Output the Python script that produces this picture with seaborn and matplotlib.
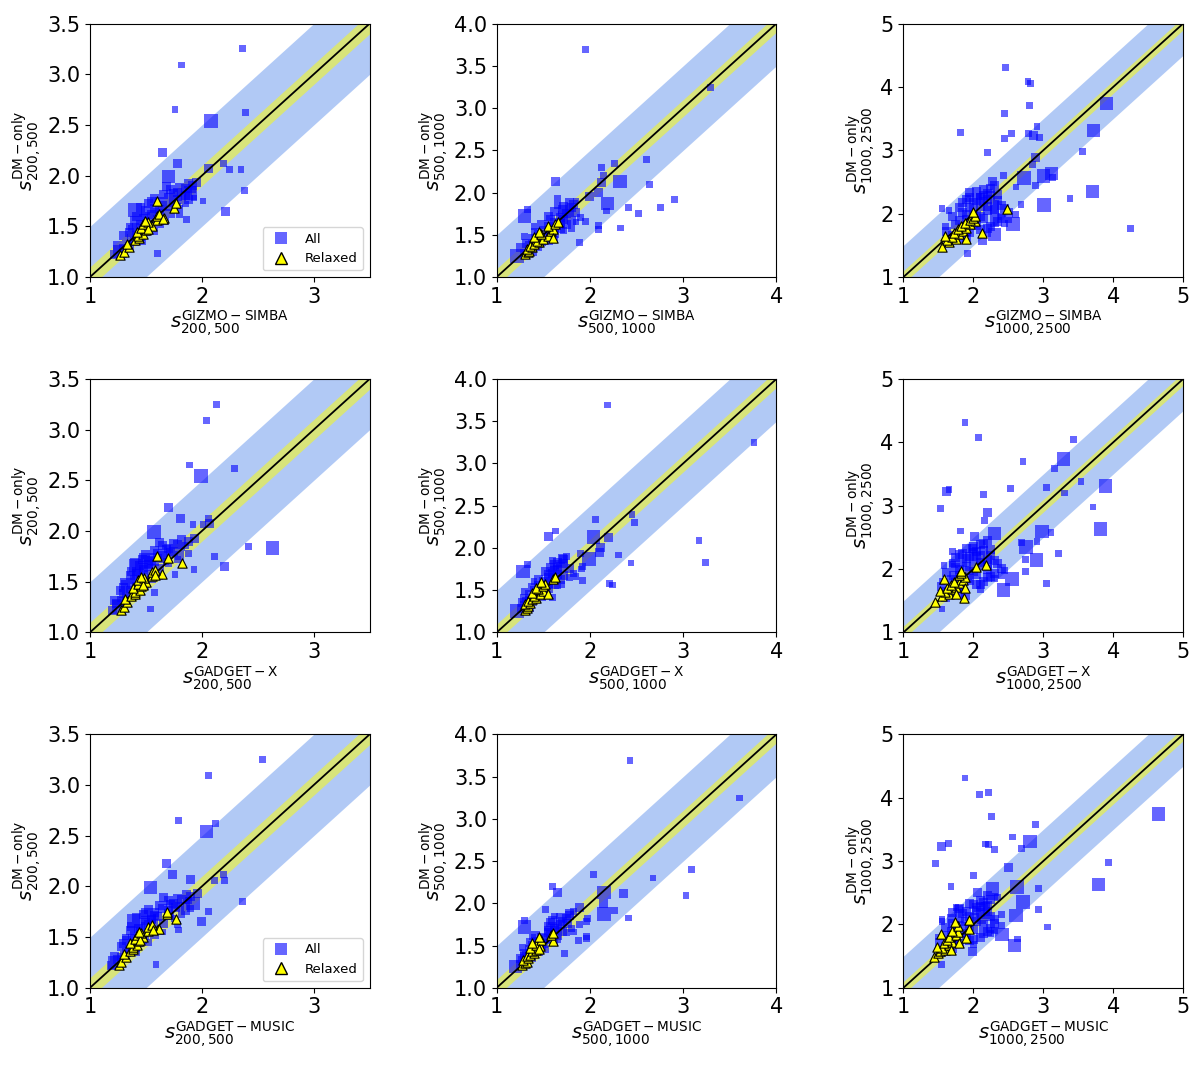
import numpy as np
import pandas as pd
import seaborn as sns
import matplotlib
matplotlib.use("Agg")
import matplotlib.pyplot as plt
from matplotlib.lines import Line2D

# row labels (hydro codes) and column apertures
codes = ["GIZMO-SIMBA", "GADGET-X", "GADGET-MUSIC"]
apertures = ["200,500", "500,1000", "1000,2500"]
upper = [3.5, 4.0, 5.0]

# ---------------- s_200,500 (all clusters) ----------------
c1_dm = [3.25, 3.09, 2.65, 2.54, 2.62, 2.23, 2.12, 2.12, 2.06, 2.06, 2.07, 1.99, 1.85, 1.65, 1.23,
         1.57, 1.83, 1.93, 1.75, 1.62, 1.39, 1.66,
         1.22, 1.25, 1.28, 1.30, 1.33, 1.35, 1.38, 1.40, 1.42, 1.45, 1.47, 1.48, 1.50, 1.52, 1.55,
         1.57, 1.60, 1.62, 1.64, 1.66, 1.68, 1.70, 1.72, 1.74, 1.76, 1.78, 1.80, 1.82, 1.84, 1.86,
         1.88, 1.90, 1.72, 1.55, 1.45, 1.35, 1.68, 1.78, 1.50, 1.60,
         1.44, 1.53, 1.58, 1.63, 1.69, 1.71, 1.73, 1.77, 1.79, 1.81, 1.83, 1.87,
         1.89, 1.76, 1.70, 1.64, 1.56, 1.49, 1.41, 1.31, 1.74, 1.67, 1.92, 1.86]
c1_gizmo = [2.36, 1.82, 1.76, 2.08, 2.39, 1.65, 1.78, 2.19, 2.25, 2.35, 2.06, 1.70, 2.38, 2.21, 1.60,
            1.86, 1.90, 1.95, 2.01, 1.80, 1.45, 1.40,
            1.22, 1.27, 1.30, 1.35, 1.32, 1.40, 1.37, 1.45, 1.41, 1.50, 1.38, 1.48, 1.55, 1.45, 1.52,
            1.60, 1.42, 1.55, 1.65, 1.50, 1.58, 1.70, 1.52, 1.62, 1.78, 1.70, 1.85, 1.75, 1.88, 1.72,
            1.80, 1.92, 1.85, 1.68, 1.58, 1.47, 1.80, 1.93, 1.35, 1.50,
            1.35, 1.62, 1.48, 1.72, 1.45, 1.65, 1.75, 1.58, 1.82, 1.66, 1.78, 1.85,
            1.68, 1.88, 1.78, 1.58, 1.40, 1.42, 1.30, 1.25, 1.55, 1.62, 1.88, 1.92]
c1_gx = [2.13, 2.04, 1.89, 1.99, 2.29, 1.70, 1.81, 2.06, 1.92, 2.01, 2.07, 1.57, 2.42, 2.20, 1.54,
         1.76, 2.63, 1.93, 2.11, 1.93, 1.58, 1.41,
         1.20, 1.26, 1.24, 1.30, 1.27, 1.33, 1.30, 1.38, 1.35, 1.42, 1.32, 1.45, 1.48, 1.40, 1.45,
         1.52, 1.37, 1.48, 1.55, 1.44, 1.52, 1.58, 1.47, 1.56, 1.65, 1.60, 1.75, 1.68, 1.82, 1.65,
         1.75, 1.88, 1.78, 1.62, 1.50, 1.40, 1.70, 1.88, 1.30, 1.42,
         1.30, 1.55, 1.42, 1.62, 1.40, 1.55, 1.66, 1.50, 1.72, 1.58, 1.70, 1.78,
         1.62, 1.80, 1.68, 1.48, 1.36, 1.37, 1.27, 1.22, 1.48, 1.52, 1.82, 1.85]
c1_music = [2.54, 2.06, 1.79, 2.04, 2.12, 1.68, 1.74, 2.19, 2.20, 2.11, 1.90, 1.54, 2.36, 2.00, 1.59,
            1.79, 1.92, 1.96, 2.06, 1.78, 1.42, 1.39,
            1.19, 1.22, 1.25, 1.28, 1.30, 1.33, 1.35, 1.38, 1.41, 1.43, 1.33, 1.47, 1.50, 1.40, 1.45,
            1.55, 1.37, 1.52, 1.58, 1.50, 1.55, 1.60, 1.48, 1.58, 1.70, 1.65, 1.80, 1.72, 1.86, 1.70,
            1.78, 1.90, 1.82, 1.65, 1.52, 1.42, 1.75, 1.90, 1.32, 1.45,
            1.30, 1.58, 1.43, 1.66, 1.42, 1.58, 1.70, 1.52, 1.76, 1.62, 1.75, 1.82,
            1.66, 1.85, 1.72, 1.50, 1.36, 1.38, 1.28, 1.22, 1.50, 1.55, 1.86, 1.88]
c1_mass = [1, 1, 1, 3, 1, 2, 2, 1, 1, 1, 2, 3, 1, 2, 1,
           1, 3, 2, 1, 1, 1, 3,
           2, 3, 2, 2, 1, 2, 2, 2, 1, 2, 2, 2, 1, 2, 2,
           2, 2, 2, 1, 2, 2, 2, 2, 2, 2, 2, 2, 2, 1, 2,
           2, 2, 1, 1, 1, 1, 1, 1, 1, 2,
           2, 2, 2, 2, 2, 2, 2, 2, 2, 2, 2, 2,
           2, 2, 1, 2, 2, 2, 2, 2, 2, 2, 2, 1]

# relaxed subsample
c1_rel_dm = [1.22, 1.25, 1.30, 1.33, 1.36, 1.38, 1.40, 1.42, 1.44, 1.46, 1.48, 1.50,
             1.52, 1.54, 1.56, 1.58, 1.60, 1.62, 1.68, 1.73, 1.75, 1.57, 1.47, 1.55]
c1_rel_gizmo = [1.27, 1.30, 1.35, 1.33, 1.40, 1.44, 1.43, 1.47, 1.42, 1.50, 1.46, 1.55,
                1.47, 1.52, 1.60, 1.66, 1.60, 1.62, 1.75, 1.77, 1.60, 1.65, 1.52, 1.49]
c1_rel_gx = [1.28, 1.30, 1.33, 1.31, 1.37, 1.40, 1.40, 1.45, 1.38, 1.46, 1.43, 1.50,
             1.43, 1.48, 1.55, 1.64, 1.55, 1.58, 1.82, 1.70, 1.60, 1.58, 1.47, 1.46]
c1_rel_music = [1.26, 1.28, 1.32, 1.30, 1.36, 1.38, 1.38, 1.42, 1.36, 1.44, 1.40, 1.47,
                1.42, 1.46, 1.52, 1.62, 1.52, 1.55, 1.77, 1.69, 1.69, 1.56, 1.45, 1.44]

# ---------------- s_500,1000 ----------------
c2_dm = [3.69, 3.245, 2.395, 2.30, 2.34, 2.09, 1.825, 1.82, 1.915, 1.75, 1.58, 1.56, 1.41, 2.13,
         2.20, 2.13, 2.12, 1.72, 1.80, 1.87, 1.95, 2.00, 1.93, 1.78, 1.61,
         1.25, 1.28, 1.32, 1.35, 1.38, 1.40, 1.42, 1.45, 1.47, 1.50, 1.52, 1.55, 1.57, 1.60, 1.62,
         1.65, 1.67, 1.70, 1.72, 1.75, 1.77, 1.80, 1.82, 1.85, 1.88, 1.90, 1.45, 1.55, 1.65, 1.35,
         1.60, 1.70, 1.48,
         1.43, 1.50, 1.58, 1.63, 1.68, 1.73, 1.78, 1.83, 1.62, 1.53, 1.40, 1.37, 1.68, 1.76,
         1.86, 1.57, 1.66, 1.30]
c2_gizmo = [1.95, 3.29, 2.61, 2.125, 2.26, 2.64, 2.76, 2.41, 2.91, 2.52, 2.33, 2.09, 1.89, 1.63,
            2.146, 2.32, 2.12, 1.30, 1.33, 2.19, 2.00, 2.09, 1.65, 2.18, 2.09,
            1.22, 1.30, 1.35, 1.25, 1.40, 1.32, 1.48, 1.38, 1.55, 1.45, 1.62, 1.50, 1.68, 1.55, 1.75,
            1.62, 1.80, 1.68, 1.55, 1.75, 1.62, 1.70, 1.80, 1.65, 1.78, 1.85, 1.62, 1.72, 1.85, 1.45,
            1.40, 1.90, 1.30,
            1.55, 1.58, 1.62, 1.68, 1.72, 1.70, 1.78, 1.72, 1.48, 1.42, 1.45, 1.35, 1.58, 1.85,
            1.82, 1.80, 1.95, 1.38]
c2_gx = [2.19, 3.76, 2.45, 2.48, 2.06, 3.17, 3.24, 2.44, 2.31, 1.91, 2.21, 2.24, 1.60, 1.55,
         1.63, 2.04, 2.20, 1.28, 1.33, 1.99, 2.10, 2.11, 1.90, 1.92, 1.92,
         1.22, 1.27, 1.30, 1.28, 1.35, 1.30, 1.42, 1.35, 1.48, 1.40, 1.55, 1.45, 1.62, 1.50, 1.68,
         1.55, 1.72, 1.60, 1.52, 1.65, 1.58, 1.62, 1.72, 1.60, 1.70, 1.75, 1.55, 1.65, 1.78, 1.40,
         1.40, 1.82, 1.30,
         1.48, 1.52, 1.55, 1.60, 1.65, 1.62, 1.68, 1.65, 1.45, 1.38, 1.40, 1.32, 1.55, 1.78,
         1.72, 1.70, 1.85, 1.35]
c2_music = [2.43, 3.60, 3.09, 2.675, 2.04, 3.03, 2.41, 1.975, 2.26, 1.89, 1.96, 1.88, 1.725, 1.65,
            1.60, 2.15, 2.36, 1.30, 1.30, 2.15, 1.89, 2.15, 1.52, 1.96, 1.96,
            1.20, 1.25, 1.28, 1.25, 1.32, 1.30, 1.38, 1.35, 1.45, 1.38, 1.50, 1.42, 1.58, 1.48, 1.65,
            1.55, 1.70, 1.62, 1.55, 1.68, 1.58, 1.60, 1.75, 1.62, 1.78, 1.82, 1.52, 1.62, 1.75, 1.38,
            1.38, 1.80, 1.28,
            1.45, 1.48, 1.52, 1.58, 1.62, 1.65, 1.70, 1.68, 1.42, 1.36, 1.36, 1.30, 1.55, 1.76,
            1.78, 1.65, 1.82, 1.30]
c2_mass = [1, 1, 1, 1, 1, 1, 1, 1, 1, 1, 1, 1, 1, 2,
           1, 3, 2, 3, 1, 3, 2, 2, 1, 1, 1,
           3, 2, 2, 2, 2, 2, 2, 2, 2, 2, 2, 2, 2, 2, 2,
           2, 2, 2, 2, 2, 2, 2, 2, 1, 2, 1, 1, 1, 1, 1,
           1, 1, 1,
           2, 2, 2, 2, 2, 2, 2, 2, 2, 2, 2, 2, 2, 2,
           2, 1, 1, 2]

c2_rel_dm = [1.27, 1.29, 1.31, 1.33, 1.35, 1.37, 1.39, 1.41, 1.43, 1.45,
             1.47, 1.49, 1.51, 1.53, 1.55, 1.57, 1.60, 1.63, 1.65, 1.46]
c2_rel_gizmo = [1.30, 1.33, 1.35, 1.32, 1.38, 1.36, 1.40, 1.45, 1.43, 1.50,
                1.40, 1.55, 1.48, 1.45, 1.58, 1.60, 1.55, 1.62, 1.66, 1.60]
c2_rel_gx = [1.30, 1.32, 1.34, 1.30, 1.36, 1.34, 1.38, 1.42, 1.40, 1.46,
             1.38, 1.50, 1.44, 1.42, 1.50, 1.52, 1.48, 1.60, 1.62, 1.55]
c2_rel_music = [1.27, 1.30, 1.32, 1.28, 1.34, 1.32, 1.36, 1.40, 1.38, 1.42,
                1.36, 1.46, 1.42, 1.38, 1.60, 1.48, 1.45, 1.58, 1.60, 1.45]

# ---------------- s_1000,2500 ----------------
c3_dm = [4.31, 4.08, 4.05, 3.70, 3.74, 3.58, 3.38, 3.31, 3.28, 3.27, 3.26, 3.23, 3.20, 3.18,
         2.98, 2.96, 2.89, 2.77, 2.60, 2.63, 2.35, 2.57, 2.59, 2.56, 2.51, 2.44, 2.42, 2.24,
         1.77, 2.14, 2.15, 2.08, 1.37, 1.58, 1.84, 1.67, 1.96, 2.27, 2.32,
         1.55, 1.60, 1.65, 1.70, 1.72, 1.75, 1.78, 1.80, 1.83, 1.85, 1.88, 1.90, 1.92, 1.95,
         1.97, 2.00, 2.02, 2.05, 2.08, 2.10, 2.12, 2.15, 2.18, 2.20, 2.22, 2.25, 2.28, 2.30,
         2.35, 2.40, 1.68, 1.90, 2.05, 1.80,
         1.72, 1.76, 1.82, 1.86, 1.89, 1.93, 1.96, 1.99, 2.01, 2.04, 2.07, 2.09, 2.11,
         2.13, 2.17, 2.19, 2.21, 2.23, 2.26, 2.29, 2.33, 2.38, 2.45, 1.98, 1.85, 1.62]
c3_gizmo = [2.46, 2.78, 2.82, 2.80, 3.90, 2.45, 2.91, 3.72, 1.81, 2.54, 2.79, 2.86, 2.95, 2.44,
            3.56, 2.20, 2.89, 2.84, 2.43, 3.12, 3.70, 3.13, 3.00, 2.72, 2.28, 2.89, 2.61, 3.38,
            4.25, 3.01, 2.68, 1.55, 1.92, 2.13, 2.57, 2.30, 2.40, 2.08, 2.20,
            1.65, 1.80, 1.70, 1.95, 1.62, 2.10, 1.85, 2.25, 1.75, 2.00, 2.35, 1.90, 2.15, 1.70,
            2.05, 2.30, 1.85, 2.20, 2.45, 1.95, 2.10, 2.30, 1.85, 2.05, 2.20, 1.95, 2.15, 2.35,
            2.05, 2.25, 2.20, 2.50, 1.65, 1.60,
            1.90, 2.20, 2.05, 2.30, 1.80, 2.40, 2.10, 1.90, 2.50, 2.00, 2.30, 1.80, 2.20,
            2.40, 2.00, 2.15, 2.35, 1.90, 2.10, 2.25, 1.95, 2.15, 2.30, 2.60, 2.45, 1.90]
c3_gx = [1.88, 2.07, 3.43, 2.71, 3.29, 3.16, 3.54, 3.89, 3.05, 2.53, 1.65, 1.62, 3.30, 2.15,
         3.71, 1.53, 2.20, 2.16, 1.81, 3.82, 2.75, 3.11, 2.98, 2.30, 2.02, 2.91, 2.69, 3.22,
         3.05, 2.90, 2.74, 1.70, 1.55, 1.88, 2.55, 2.43, 2.75, 1.70, 1.98,
         1.60, 1.70, 1.62, 1.85, 1.55, 2.05, 1.75, 2.15, 1.68, 1.92, 2.25, 1.80, 2.05, 1.62,
         1.95, 2.20, 1.75, 2.10, 2.35, 1.85, 2.00, 2.20, 1.75, 1.95, 2.10, 1.85, 2.05, 2.25,
         2.00, 2.15, 2.10, 2.40, 1.58, 1.55,
         1.80, 2.10, 1.95, 2.20, 1.72, 2.30, 2.00, 1.80, 2.40, 1.90, 2.20, 1.72, 2.10,
         2.30, 1.90, 2.05, 2.25, 1.80, 2.00, 2.15, 1.90, 2.10, 2.20, 2.45, 2.30, 1.80]
c3_music = [1.88, 2.22, 2.09, 2.26, 4.65, 2.89, 2.56, 2.81, 1.64, 2.17, 2.22, 1.54, 2.69, 2.30,
            3.93, 1.46, 2.50, 2.00, 1.68, 3.79, 2.71, 2.93, 2.62, 2.27, 2.06, 2.31, 2.35, 2.93,
            2.63, 2.61, 2.40, 1.55, 1.54, 1.98, 2.41, 2.59, 3.06, 1.75, 2.00,
            1.55, 1.65, 1.60, 1.80, 1.52, 1.95, 1.70, 2.10, 1.62, 1.88, 2.20, 1.75, 2.00, 1.60,
            1.92, 2.15, 1.70, 2.05, 2.30, 1.80, 1.95, 2.18, 1.70, 1.90, 2.05, 1.80, 2.10, 2.20,
            2.15, 2.25, 2.00, 2.30, 1.55, 1.50,
            1.75, 2.00, 1.90, 2.15, 1.68, 2.25, 1.95, 1.78, 2.30, 1.88, 2.12, 1.68, 2.02,
            2.25, 1.85, 2.10, 2.20, 1.78, 2.05, 2.18, 1.95, 2.10, 2.20, 2.40, 2.25, 1.70]
c3_mass = [1, 1, 1, 1, 3, 1, 1, 3, 1, 1, 1, 2, 1, 1,
           1, 1, 2, 1, 1, 3, 3, 1, 3, 3, 2, 1, 1, 1,
           1, 3, 1, 1, 1, 2, 3, 3, 1, 1, 2,
           2, 2, 2, 2, 2, 2, 2, 2, 2, 2, 2, 2, 2, 2,
           2, 2, 2, 2, 2, 2, 2, 2, 2, 2, 2, 2, 2, 2,
           2, 2, 1, 1, 1, 1,
           2, 2, 2, 2, 2, 2, 2, 2, 2, 2, 2, 2, 2,
           2, 2, 2, 2, 2, 2, 2, 2, 2, 2, 1, 1, 2]

c3_rel_dm = [1.48, 1.55, 1.58, 1.60, 1.63, 1.65, 1.68, 1.70, 1.72, 1.75, 1.78,
             1.80, 1.83, 1.85, 1.88, 1.90, 1.93, 1.97, 2.03, 2.07, 1.70, 1.60]
c3_rel_gizmo = [1.55, 1.65, 1.62, 1.75, 1.70, 1.60, 1.80, 1.72, 1.85, 1.78, 1.90,
                1.82, 1.95, 1.88, 2.02, 1.95, 2.00, 2.02, 2.00, 2.48, 2.12, 1.90]
c3_rel_gx = [1.45, 1.87, 1.55, 1.65, 1.60, 1.52, 1.70, 1.62, 1.75, 1.68, 1.80,
             1.72, 1.85, 1.58, 1.88, 1.80, 1.82, 1.82, 2.04, 2.18, 1.88, 1.75]
c3_rel_music = [1.43, 1.50, 1.52, 1.60, 1.55, 1.48, 1.65, 1.58, 1.70, 1.62, 1.90,
                1.65, 1.75, 1.53, 1.78, 1.70, 1.93, 1.78, 1.73, 1.93, 1.80, 1.68]

all_dm = [c1_dm, c2_dm, c3_dm]
all_hydro = [[c1_gizmo, c2_gizmo, c3_gizmo],
             [c1_gx, c2_gx, c3_gx],
             [c1_music, c2_music, c3_music]]
all_mass = [c1_mass, c2_mass, c3_mass]
rel_dm = [c1_rel_dm, c2_rel_dm, c3_rel_dm]
rel_hydro = [[c1_rel_gizmo, c2_rel_gizmo, c3_rel_gizmo],
             [c1_rel_gx, c2_rel_gx, c3_rel_gx],
             [c1_rel_music, c2_rel_music, c3_rel_music]]

fig, axes = plt.subplots(3, 3, figsize=(12, 10.69), dpi=100)
fig.subplots_adjust(left=0.075, right=0.986, bottom=0.076, top=0.978,
                    wspace=0.454, hspace=0.402)

for i in range(3):
    for j in range(3):
        ax = axes[i, j]
        hi = upper[j]
        xl = np.array([1.0, hi])
        # +-0.5 and +-0.1 bands around one-to-one
        ax.fill_between(xl, xl - 0.5, xl + 0.5, color="cornflowerblue", alpha=0.5, lw=0, zorder=0)
        ax.fill_between(xl, xl - 0.1, xl + 0.1, color="yellow", alpha=0.5, lw=0, zorder=1)

        df = pd.DataFrame({"x": all_hydro[i][j], "y": all_dm[j], "m": all_mass[j]})
        sns.scatterplot(data=df, x="x", y="y", size="m", sizes={1: 24, 2: 42, 3: 95},
                        marker="s", color="blue", alpha=0.6, linewidth=0,
                        legend=False, ax=ax, zorder=2)
        ax.plot(xl, xl, color="black", lw=1.3, zorder=3)
        dr = pd.DataFrame({"x": rel_hydro[i][j], "y": rel_dm[j]})
        sns.scatterplot(data=dr, x="x", y="y", marker="^", color="yellow", s=45,
                        edgecolor="black", linewidth=0.8, legend=False, ax=ax, zorder=4)

        ax.set_xlim(1, hi)
        ax.set_ylim(1, hi)
        ax.set_xticks(np.arange(1, int(hi) + 1))
        if j == 2:
            ax.set_yticks([1, 2, 3, 4, 5])
        else:
            ax.set_yticks(np.arange(1.0, hi + 0.01, 0.5))
        ax.tick_params(labelsize=15)
        ax.set_xlabel(r"$s^{\rm %s}_{%s}$" % (codes[i], apertures[j]), fontsize=14, labelpad=2)
        ax.set_ylabel(r"$s^{\rm DM-only}_{%s}$" % apertures[j], fontsize=14, labelpad=2)

        if j == 0 and i != 1:
            handles = [Line2D([], [], marker="s", color="blue", alpha=0.6, ls="", markersize=8,
                              markeredgewidth=0),
                       Line2D([], [], marker="^", markerfacecolor="yellow", markeredgecolor="black",
                              ls="", markersize=8)]
            ax.legend(handles, ["All", "Relaxed"], loc="lower right", fontsize=9.5)

fig.savefig("out.png", dpi=100)
